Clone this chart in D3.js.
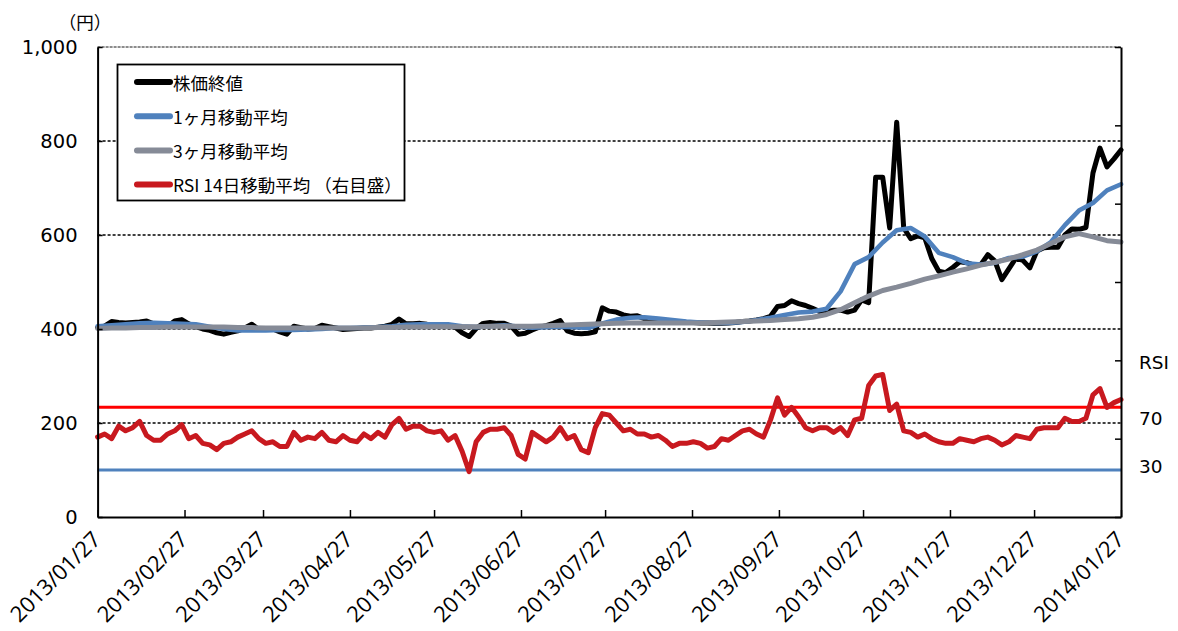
<!DOCTYPE html>
<html>
<head>
<meta charset="utf-8">
<script src="https://cdn.jsdelivr.net/npm/d3@7"></script>
<style>
  body { margin: 0; background: #fff; }
  svg { display: block; }
</style>
</head>
<body>
<svg id="chart" width="1178" height="631"></svg>
<script>
// ---- data ----------------------------------------------------------------
const periodStart = "2013/01/27";
const periodEnd = "2014/01/27";

const dateTickLabels = [
  "2013/01/27", "2013/02/27", "2013/03/27", "2013/04/27", "2013/05/27",
  "2013/06/27", "2013/07/27", "2013/08/27", "2013/09/27", "2013/10/27",
  "2013/11/27", "2013/12/27", "2014/01/27"
];
const priceTicks = [0, 200, 400, 600, 800, 1000];
const rsiTicks = [0, 50, 100, 150, 200, 250, 300];
const rsiBands = [70, 30];

const seriesNames = ["株価終値", "1ヶ月移動平均", "3ヶ月移動平均", "RSI 14日移動平均 （右目盛）"];

// closing price (円), sampled evenly across the period
const closePrice = [
  403, 406, 416, 414, 413, 414, 415, 417, 411, 405,
  406, 417, 420, 411, 405, 400, 397, 392, 389, 393,
  396, 402, 410, 399, 399, 400, 394, 389, 406, 403,
  400, 401, 408, 405, 402, 399, 400, 401, 402, 402,
  404, 406, 410, 421, 411, 411, 412, 410, 409, 408,
  406, 404, 392, 384, 401, 412, 414, 412, 412, 406,
  389, 391, 398, 404, 407, 412, 418, 396, 391, 390,
  391, 394, 445, 438, 436, 430, 427, 428, 422, 419,
  418, 417, 416, 415, 414, 414, 413, 413, 412, 412,
  413, 414, 416, 417, 419, 422, 427, 448, 450, 460,
  454, 450, 444, 437, 437, 440, 440, 436, 440, 462,
  456, 723, 723, 615, 840, 615, 592, 598, 594, 550,
  523, 520, 531, 543, 541, 536, 537, 558, 545, 505,
  528, 551, 546, 530, 566, 573, 574, 574, 600, 613,
  612, 616, 732, 785, 745, 762, 781
];

// RSI (14-day), same sampling as the closing price
const rsi14 = [
  51, 53, 50, 58, 55, 57, 61, 52, 49, 49,
  53, 55, 59, 50, 52, 47, 46, 43, 47, 48,
  51, 53, 55, 50, 47, 48, 45, 45, 54, 49,
  51, 50, 54, 49, 48, 52, 49, 48, 53, 50,
  54, 51, 59, 63, 56, 58, 58, 55, 54, 55,
  49, 52, 42, 29, 48, 54, 56, 56, 57, 52,
  40, 37, 54, 51, 48, 51, 57, 50, 52, 43,
  41, 57, 66, 65, 60, 55, 56, 53, 53, 51,
  52, 49, 45, 47, 47, 48, 47, 44, 45, 50,
  49, 52, 55, 56, 53, 51, 62, 76, 65, 70,
  64, 57, 55, 57, 57, 54, 57, 52, 62, 63,
  84, 90, 91, 68, 72, 55, 54, 51, 53, 50,
  48, 47, 47, 50, 49, 48, 50, 51, 49, 46,
  48, 52, 51, 50, 56, 57, 57, 57, 63, 61,
  61, 63, 78, 82, 70, 73, 75
];

// 1-month moving average (円), sampled every 5 days
const ma1Month = [
  406, 408, 410, 412, 413, 412, 411, 410, 405, 400,
  397, 397, 397, 398, 398, 399, 400, 402, 402, 403,
  404, 406, 409, 410, 410, 410, 406, 404, 406, 408,
  405, 403, 404, 405, 404, 402, 412, 420, 424, 425,
  422, 419, 416, 414, 413, 413, 415, 419, 424, 430,
  435, 437, 443, 480, 538, 553, 584, 610, 615, 597,
  562, 553, 540, 537, 541, 551, 554, 565, 585, 621,
  652, 668, 695, 708
];

// 3-month moving average (円), sampled every 5 days
const ma3Month = [
  401, 402, 402, 403, 403, 404, 404, 404, 404, 404,
  403, 403, 402, 402, 402, 402, 402, 402, 402, 402,
  403, 403, 404, 404, 405, 405, 405, 405, 406, 406,
  406, 406, 407, 408, 409, 410, 411, 412, 413, 413,
  413, 413, 413, 413, 414, 415, 416, 417, 418, 420,
  422, 425, 431, 441, 456, 470, 482, 489, 497, 506,
  513, 521, 528, 536, 542, 549, 558, 568, 582, 596,
  603, 596, 588, 585
];

// ---- layout --------------------------------------------------------------
const plot = { left: 97.6, right: 1121, top: 47, bottom: 517 };
const colors = {
  price: "#000000",
  ma1: "#4F81BD",
  ma3: "#868B97",
  rsi: "#C8191F",
  band70: "#FF0000",
  band30: "#4F81BD"
};

const parseDay = d3.timeParse("%Y/%m/%d");
const formatDay = d3.timeFormat("%Y/%m/%d");
const t0 = parseDay(periodStart), t1 = parseDay(periodEnd);

// spread a sampled series evenly over the period
function alongPeriod(values) {
  const span = t1 - t0;
  return values.map((v, i) => ({ date: new Date(+t0 + span * i / (values.length - 1)), value: v }));
}

const x = d3.scaleTime().domain([t0, t1]).range([plot.left, plot.right]);
const yPrice = d3.scaleLinear().domain([0, 1000]).range([plot.bottom, plot.top]);
const yRsi = d3.scaleLinear().domain([0, 300]).range([plot.bottom, plot.top]);

const svg = d3.select("#chart");
svg.append("rect").attr("width", 1178).attr("height", 631).attr("fill", "#fff");

// horizontal gridlines
svg.append("g")
  .selectAll("line")
  .data(priceTicks.filter(v => v > 0 && v < 1000))
  .join("line")
  .attr("x1", plot.left).attr("x2", plot.right)
  .attr("y1", d => yPrice(d)).attr("y2", d => yPrice(d))
  .attr("stroke", "#000").attr("stroke-width", 1.3)
  .attr("stroke-dasharray", "3,2");

svg.append("line")
  .attr("x1", plot.left).attr("x2", plot.right)
  .attr("y1", yPrice(1000)).attr("y2", yPrice(1000))
  .attr("stroke", "#8c8c8c").attr("stroke-width", 2.2)
  .attr("stroke-dasharray", "3,1");

// price series
const priceLine = d3.line().x(d => x(d.date)).y(d => yPrice(d.value));
const rsiLine = d3.line().x(d => x(d.date)).y(d => yRsi(d.value));

function drawLine(values, gen, color, width) {
  svg.append("path")
    .datum(alongPeriod(values))
    .attr("d", gen)
    .attr("fill", "none")
    .attr("stroke", color)
    .attr("stroke-width", width)
    .attr("stroke-linejoin", "round")
    .attr("stroke-linecap", "round");
}

drawLine(closePrice, priceLine, colors.price, 5);
drawLine(ma1Month, priceLine, colors.ma1, 4.6);
drawLine(ma3Month, priceLine, colors.ma3, 5);

// RSI reference levels
svg.append("g")
  .selectAll("line")
  .data(rsiBands)
  .join("line")
  .attr("x1", plot.left).attr("x2", plot.right)
  .attr("y1", d => yRsi(d)).attr("y2", d => yRsi(d))
  .attr("stroke", d => d === 70 ? colors.band70 : colors.band30)
  .attr("stroke-width", 3);

drawLine(rsi14, rsiLine, colors.rsi, 5);

// ---- axes ----------------------------------------------------------------
const axisFont = "'DejaVu Sans', Verdana, sans-serif";

const leftAxis = svg.append("g")
  .attr("transform", `translate(${plot.left},0)`)
  .call(d3.axisLeft(yPrice).tickValues(priceTicks).tickFormat(d3.format(","))
    .tickSizeInner(-5).tickSizeOuter(0).tickPadding(20));
leftAxis.select(".domain").attr("stroke-width", 2);
leftAxis.selectAll(".tick line").attr("stroke-width", 1.5);
leftAxis.selectAll("text").attr("font-family", axisFont).attr("font-size", 19.5).attr("fill", "#000");

const rightAxis = svg.append("g")
  .attr("transform", `translate(${plot.right},0)`)
  .call(d3.axisRight(yRsi).tickValues(rsiTicks).tickFormat("")
    .tickSizeInner(-6).tickSizeOuter(0));
rightAxis.select(".domain").attr("stroke-width", 2);
rightAxis.selectAll(".tick line").attr("stroke-width", 1.5);

const bottomAxis = svg.append("g")
  .attr("transform", `translate(0,${plot.bottom})`)
  .call(d3.axisBottom(x).tickValues(dateTickLabels.map(parseDay)).tickFormat(formatDay)
    .tickSizeInner(-7).tickSizeOuter(0));
bottomAxis.select(".domain").attr("stroke-width", 2);
bottomAxis.selectAll(".tick line").attr("stroke-width", 1.5);
bottomAxis.selectAll("text")
  .attr("font-family", "'Open Sans', 'Liberation Sans', sans-serif")
  .attr("font-size", 22)
  .attr("fill", "#000")
  .attr("text-anchor", "end")
  .attr("x", -14)
  .attr("y", 12)
  .attr("dy", "0.35em")
  .attr("transform", "rotate(-45)");

// unit label and right-side labels
svg.append("text")
  .attr("x", 85).attr("y", 21)
  .attr("text-anchor", "middle").attr("dominant-baseline", "central")
  .attr("font-family", "'Noto Sans CJK JP', sans-serif").attr("font-size", 17.5)
  .text("（円）");

const rightLabels = [
  { text: "RSI", y: 362 },
  { text: String(rsiBands[0]), y: 418 },
  { text: String(rsiBands[1]), y: 466 }
];
svg.append("g")
  .selectAll("text")
  .data(rightLabels)
  .join("text")
  .attr("x", 1139).attr("y", d => d.y)
  .attr("dominant-baseline", "central")
  .attr("font-family", axisFont).attr("font-size", 18.5)
  .text(d => d.text);

// ---- legend --------------------------------------------------------------
const legend = svg.append("g");
legend.append("rect")
  .attr("x", 117.5).attr("y", 64.5).attr("width", 287).attr("height", 136)
  .attr("fill", "#fff").attr("stroke", "#000").attr("stroke-width", 1.8);

const legendColors = [colors.price, colors.ma1, colors.ma3, colors.rsi];
const rows = legend.selectAll("g.row")
  .data(seriesNames)
  .join("g")
  .attr("class", "row")
  .attr("transform", (d, i) => `translate(0,${82 + i * 34.2})`);
rows.append("line")
  .attr("x1", 137).attr("x2", 170)
  .attr("stroke", (d, i) => legendColors[i])
  .attr("stroke-width", 6)
  .attr("stroke-linecap", "round");
rows.append("text")
  .attr("x", 173)
  .attr("dominant-baseline", "central")
  .attr("font-family", "'Noto Sans CJK JP', sans-serif")
  .attr("font-size", 17.5)
  .text(d => d);
</script>
</body>
</html>
